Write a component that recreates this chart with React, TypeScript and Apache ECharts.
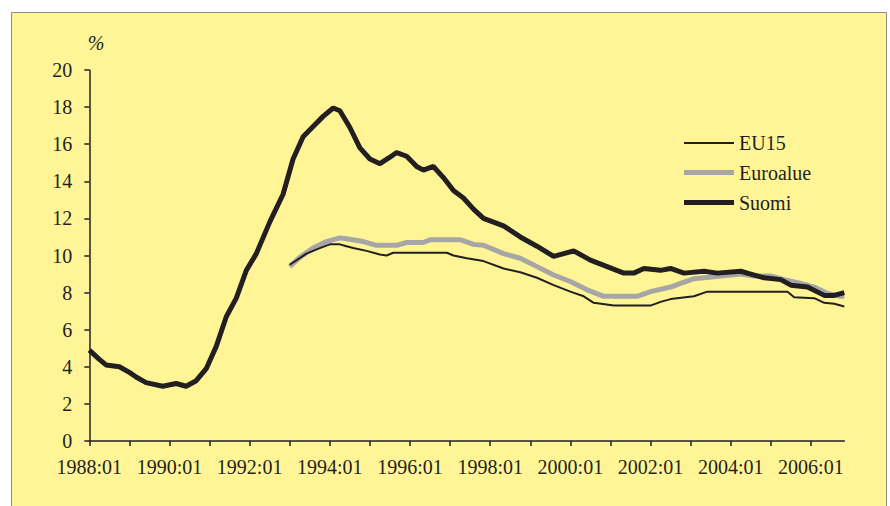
import React, { useEffect, useRef } from "react";
import * as echarts from "echarts";

// Monthly categories 1988:01 ... 2006:11
const years = [1988, 1989, 1990, 1991, 1992, 1993, 1994, 1995, 1996, 1997, 1998, 1999, 2000, 2001, 2002, 2003, 2004, 2005, 2006];
const allMonths: string[] = [];
years.forEach((y) => {
  for (let m = 1; m <= 12; m++) allMonths.push(`${y}:${String(m).padStart(2, "0")}`);
});
const categories = allMonths.slice(0, 227);

const yTicks = [0, 2, 4, 6, 8, 10, 12, 14, 16, 18, 20];

// Suomi (month index from 1988:01, value %)
const suomiAt = [0, 3, 5, 9, 12, 14, 17, 22, 26, 29, 32, 35, 38, 41, 44, 47, 50, 54, 58, 61, 64, 67, 70, 73, 75, 78, 81, 84, 87, 90, 92, 95, 98, 100, 103, 106, 109, 112, 115, 118, 124, 129, 134, 139, 145, 150, 155, 160, 163, 166, 171, 174, 178, 184, 188, 195, 198, 202, 207, 210, 215, 220, 223, 226];
const suomiVal = [4.9, 4.4, 4.1, 4.0, 3.7, 3.45, 3.15, 2.95, 3.1, 2.95, 3.25, 3.9, 5.1, 6.7, 7.7, 9.2, 10.1, 11.8, 13.3, 15.2, 16.4, 16.95, 17.5, 17.95, 17.8, 16.9, 15.8, 15.2, 14.95, 15.3, 15.55, 15.35, 14.8, 14.6, 14.8, 14.2, 13.5, 13.1, 12.5, 12.0, 11.6, 11.0, 10.5, 9.95, 10.25, 9.75, 9.4, 9.05, 9.05, 9.3, 9.2, 9.3, 9.05, 9.15, 9.05, 9.15, 9.0, 8.8, 8.7, 8.4, 8.3, 7.85, 7.85, 8.0];

// Euroalue
const euroAt = [60, 63, 67, 71, 75, 77, 82, 86, 92, 95, 100, 102, 111, 115, 118, 124, 129, 134, 139, 144, 149, 154, 164, 168, 174, 177, 181, 187, 195, 199, 204, 208, 213, 217, 221, 225, 226];
const euroVal = [9.4, 9.9, 10.4, 10.75, 10.95, 10.9, 10.75, 10.55, 10.55, 10.7, 10.7, 10.85, 10.85, 10.6, 10.55, 10.1, 9.85, 9.4, 8.95, 8.6, 8.15, 7.8, 7.8, 8.05, 8.3, 8.5, 8.75, 8.85, 9.0, 8.9, 8.9, 8.7, 8.5, 8.3, 7.95, 7.8, 7.8];

// EU15
const eu15At = [60, 65, 69, 72, 75, 77, 79, 83, 87, 89, 91, 107, 109, 113, 118, 124, 129, 134, 139, 144, 148, 151, 157, 168, 171, 174, 181, 185, 209, 211, 217, 220, 223, 226];
const eu15Val = [9.5, 10.1, 10.4, 10.6, 10.6, 10.5, 10.4, 10.25, 10.05, 10.0, 10.15, 10.15, 10.0, 9.85, 9.7, 9.3, 9.1, 8.8, 8.4, 8.05, 7.8, 7.45, 7.3, 7.3, 7.5, 7.65, 7.8, 8.05, 8.05, 7.75, 7.7, 7.45, 7.4, 7.25];

const seriesNames = ["EU15", "Euroalue", "Suomi"];

const toData = (at: number[], val: number[]) => at.map((m, i) => [categories[m], val[i]]);

const FONT = "'Liberation Serif', 'Times New Roman', serif";
const TXT = "#231f20";

export default function App() {
  const ref = useRef<HTMLDivElement>(null);
  useEffect(() => {
    if (!ref.current) return;
    const chart = echarts.init(ref.current, null, { renderer: "svg" });
    const legendY = [143, 172.5, 202.5];
    const legendStyles = [
      { stroke: "#231f20", lineWidth: 2 },
      { stroke: "#a6a6a6", lineWidth: 5 },
      { stroke: "#231f20", lineWidth: 5 },
    ];
    const legendGraphics: any[] = [];
    seriesNames.forEach((n, i) => {
      legendGraphics.push({
        type: "line",
        shape: { x1: 684, y1: legendY[i], x2: 734, y2: legendY[i] },
        style: legendStyles[i],
        z: 10,
      });
      legendGraphics.push({
        type: "text",
        x: 739,
        y: legendY[i],
        style: { text: n, font: `20px ${FONT}`, fill: TXT, verticalAlign: "middle", align: "left" },
        z: 10,
      });
    });
    chart.setOption({
      animation: false,
      backgroundColor: "#ffffff",
      graphic: [
        {
          type: "rect",
          shape: { x: 11.5, y: 12.5, width: 875, height: 510 },
          style: { fill: "#fff597", stroke: "#8c8c8c", lineWidth: 1 },
          z: -10,
          silent: true,
        },
        {
          type: "text",
          x: 96,
          y: 43,
          style: { text: "%", font: `italic 20px ${FONT}`, fill: TXT, align: "center", verticalAlign: "middle" },
          z: 10,
        },
        ...legendGraphics,
      ],
      grid: { left: 89.3, right: 45.7, top: 70, bottom: 65, containLabel: false },
      xAxis: {
        type: "category",
        data: categories,
        boundaryGap: false,
        axisLine: { lineStyle: { color: TXT, width: 1.5 } },
        axisTick: { interval: 11, length: 5, lineStyle: { color: TXT, width: 1.5 } },
        axisLabel: {
          interval: 23,
          margin: 16,
          color: TXT,
          fontFamily: FONT,
          fontSize: 20,
        },
        splitLine: { show: false },
      },
      yAxis: {
        type: "value",
        min: yTicks[0],
        max: yTicks[yTicks.length - 1],
        interval: 2,
        axisLine: { show: true, lineStyle: { color: TXT, width: 1.5 } },
        axisTick: { show: true, length: 5, lineStyle: { color: TXT, width: 1.5 } },
        axisLabel: { margin: 17, color: TXT, fontFamily: FONT, fontSize: 20 },
        splitLine: { show: false },
      },
      series: [
        {
          name: "Euroalue",
          type: "line",
          data: toData(euroAt, euroVal),
          symbol: "none",
          lineStyle: { color: "#a6a6a6", width: 5 },
          z: 2,
        },
        {
          name: "EU15",
          type: "line",
          data: toData(eu15At, eu15Val),
          symbol: "none",
          lineStyle: { color: "#231f20", width: 2 },
          z: 3,
        },
        {
          name: "Suomi",
          type: "line",
          data: toData(suomiAt, suomiVal),
          symbol: "none",
          lineStyle: { color: "#231f20", width: 5 },
          z: 4,
        },
      ],
    });
    return () => chart.dispose();
  }, []);
  return <div ref={ref} style={{ position: "fixed", left: 0, top: 0, width: 890, height: 506 }} />;
}
